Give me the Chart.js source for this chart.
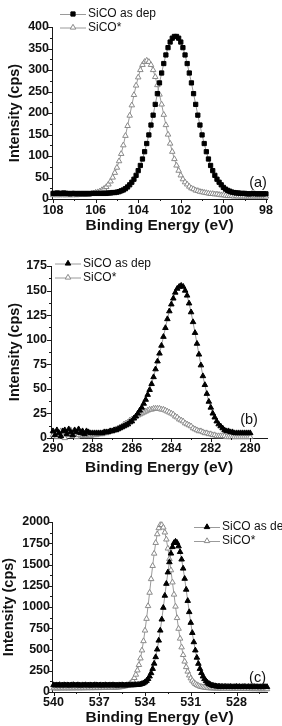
<!DOCTYPE html>
<html>
<head>
<meta charset="utf-8">
<script src="https://cdn.jsdelivr.net/npm/chart.js@4.4.1/dist/chart.umd.min.js"></script>
<style>
  html, body { margin: 0; padding: 0; background: #fff; }
  body { width: 282px; height: 726px; position: relative; overflow: hidden; }
  canvas { position: absolute; left: 0; }
</style>
</head>
<body>
<canvas id="panelA" width="282" height="236" style="top:0px"></canvas>
<canvas id="panelB" width="282" height="246" style="top:236px"></canvas>
<canvas id="panelC" width="282" height="244" style="top:482px"></canvas>
<script>
// ---- panel (a): Si 2p ----
const energyA = [
  108.0,107.9,107.8,107.7,107.6,107.5,107.4,107.3,107.2,107.1,
  107.0,106.9,106.8,106.7,106.6,106.5,106.4,106.3,106.2,106.1,
  106.0,105.9,105.8,105.7,105.6,105.5,105.4,105.3,105.2,105.1,
  105.0,104.9,104.8,104.7,104.6,104.5,104.4,104.3,104.2,104.1,
  104.0,103.9,103.8,103.7,103.6,103.5,103.4,103.3,103.2,103.1,
  103.0,102.9,102.8,102.7,102.6,102.5,102.4,102.3,102.2,102.1,
  102.0,101.9,101.8,101.7,101.6,101.5,101.4,101.3,101.2,101.1,
  101.0,100.9,100.8,100.7,100.6,100.5,100.4,100.3,100.2,100.1,
  100.0,99.9,99.8,99.7,99.6,99.5,99.4,99.3,99.2,99.1,
  99.0,98.9,98.8,98.7,98.6,98.5,98.4,98.3,98.2,98.1,
  98.0
];
const sicoDepA = [
  13,13,14,13,13,14,13,13,12,13,
  13,12,13,12,13,12,13,12,13,13,
  13,13,13,13,13,13,14,14,15,15,
  16,17,19,21,24,28,33,39,46,55,
  66,78,93,110,129,149,172,195,220,245,
  270,293,315,335,352,365,374,378,378,374,
  365,352,335,315,293,270,245,220,195,172,
  149,129,110,93,78,66,55,46,39,33,
  27,23,20,18,16,15,14,14,13,13,
  13,12,12,12,13,12,12,12,12,12,
  12
];
const sicoStarA = [
  9,10,9,9,10,9,9,10,9,9,
  10,9,10,10,10,10,11,11,12,13,
  15,16,18,21,24,28,34,41,50,61,
  73,88,105,125,147,170,194,218,242,264,
  283,300,312,319,322,319,312,300,284,265,
  243,220,196,172,150,129,110,93,78,66,
  55,46,39,34,29,25,23,20,19,17,
  16,15,14,13,12,12,11,11,10,9,
  9,8,7,7,7,6,7,6,6,6,
  6,6,6,6,6,6,6,6,6,6,
  6
];

// ---- panel (b): C 1s ----
const energyB = [
  290.0,289.9,289.8,289.7,289.6,289.5,289.4,289.3,289.2,289.1,
  289.0,288.9,288.8,288.7,288.6,288.5,288.4,288.3,288.2,288.1,
  288.0,287.9,287.8,287.7,287.6,287.5,287.4,287.3,287.2,287.1,
  287.0,286.9,286.8,286.7,286.6,286.5,286.4,286.3,286.2,286.1,
  286.0,285.9,285.8,285.7,285.6,285.5,285.4,285.3,285.2,285.1,
  285.0,284.9,284.8,284.7,284.6,284.5,284.4,284.3,284.2,284.1,
  284.0,283.9,283.8,283.7,283.6,283.5,283.4,283.3,283.2,283.1,
  283.0,282.9,282.8,282.7,282.6,282.5,282.4,282.3,282.2,282.1,
  282.0,281.9,281.8,281.7,281.6,281.5,281.4,281.3,281.2,281.1,
  281.0,280.9,280.8,280.7,280.6,280.5,280.4,280.3,280.2,280.1,
  280.0
];
const sicoDepB = [
  7,3,8,5,2,7,8,4,9,6,
  3,8,6,9,5,7,4,7,6,5,
  5,5,5,5,5,5,6,6,6,7,
  7,8,8,9,10,11,12,13,14,16,
  17,20,22,25,28,31,35,39,44,49,
  55,62,70,78,86,94,103,112,121,129,
  136,142,148,152,154,155,154,150,145,137,
  128,118,107,96,85,74,63,54,45,37,
  31,25,21,17,14,12,10,8,7,7,
  6,6,5,5,5,5,5,5,5,5,
  5
];
const sicoStarB = [
  3,6,1,4,7,2,0,5,3,8,
  2,4,1,3,5,2,3,2,3,2,
  3,3,3,4,4,4,5,5,6,7,
  7,8,9,10,11,12,14,15,16,18,
  19,20,22,23,24,25,26,27,28,29,
  29,30,30,30,30,29,29,28,27,26,
  25,24,22,21,19,18,17,15,14,13,
  12,10,9,8,7,7,6,5,5,4,
  4,3,3,2,2,2,2,2,1,1,
  1,1,1,1,1,1,1,1,1,1,
  1
];

// ---- panel (c): O 1s ----
const energyC = [
  540.0,539.9,539.8,539.7,539.6,539.5,539.4,539.3,539.2,539.1,
  539.0,538.9,538.8,538.7,538.6,538.5,538.4,538.3,538.2,538.1,
  538.0,537.9,537.8,537.7,537.6,537.5,537.4,537.3,537.2,537.1,
  537.0,536.9,536.8,536.7,536.6,536.5,536.4,536.3,536.2,536.1,
  536.0,535.9,535.8,535.7,535.6,535.5,535.4,535.3,535.2,535.1,
  535.0,534.9,534.8,534.7,534.6,534.5,534.4,534.3,534.2,534.1,
  534.0,533.9,533.8,533.7,533.6,533.5,533.4,533.3,533.2,533.1,
  533.0,532.9,532.8,532.7,532.6,532.5,532.4,532.3,532.2,532.1,
  532.0,531.9,531.8,531.7,531.6,531.5,531.4,531.3,531.2,531.1,
  531.0,530.9,530.8,530.7,530.6,530.5,530.4,530.3,530.2,530.1,
  530.0,529.9,529.8,529.7,529.6,529.5,529.4,529.3,529.2,529.1,
  529.0,528.9,528.8,528.7,528.6,528.5,528.4,528.3,528.2,528.1,
  528.0,527.9,527.8,527.7,527.6,527.5,527.4,527.3,527.2,527.1,
  527.0,526.9,526.8,526.7,526.6,526.5,526.4,526.3,526.2,526.1,
  526.0
];
const sicoDepC = [
  82,79,81,80,83,78,80,82,79,81,
  80,78,81,83,80,79,82,80,78,81,
  80,82,79,80,81,78,80,82,81,79,
  80,81,78,80,82,80,79,81,80,82,
  79,80,78,81,80,82,80,79,81,80,
  81,81,81,82,83,84,87,90,96,104,
  116,132,154,184,223,273,335,411,501,606,
  724,854,992,1134,1274,1408,1528,1630,1706,1754,
  1770,1756,1715,1648,1560,1453,1333,1205,1073,941,
  815,696,587,490,405,333,273,224,184,153,
  129,110,96,86,78,73,70,66,65,64,
  62,62,61,63,60,61,62,60,59,61,
  62,60,61,59,60,62,60,59,61,60,
  58,60,61,59,60,58,60,59,61,59,
  60
];
const sicoStarC = [
  44,45,43,44,45,44,46,44,45,45,
  44,46,45,45,46,45,47,45,46,46,
  46,47,46,47,47,46,48,47,47,48,
  47,48,48,49,49,50,50,51,51,52,
  53,53,54,56,58,60,65,69,75,84,
  96,113,135,166,205,255,319,396,490,599,
  724,862,1012,1169,1329,1484,1629,1755,1857,1928,
  1966,1966,1936,1878,1795,1689,1566,1433,1290,1147,
  1006,871,745,629,526,436,359,294,241,196,
  162,134,113,96,83,74,66,60,57,53,
  50,48,46,45,45,44,43,43,42,42,
  41,41,40,40,39,40,39,38,39,38,
  37,38,37,37,38,36,37,36,37,36,
  35,36,35,36,35,34,35,35,34,35,
  34
];

// tick values
const ticksAx = [108,106,104,102,100,98], minorAx = [107,105,103,101,99];
const ticksAy = [0,50,100,150,200,250,300,350,400], minorAy = [25,75,125,175,225,275,325,375];
const ticksBx = [290,288,286,284,282,280], minorBx = [289,287,285,283,281];
const ticksBy = [0,25,50,75,100,125,150,175], minorBy = [12.5,37.5,62.5,87.5,112.5,137.5,162.5];
const ticksCx = [540,537,534,531,528], minorCx = [538.5,535.5,532.5,529.5,526.5];
const ticksCy = [0,250,500,750,1000,1250,1500,1750,2000], minorCy = [125,375,625,875,1125,1375,1625,1875];

const seriesNames = ['SiCO as dep', 'SiCO*'];
const xTitle = 'Binding Energy (eV)';
const yTitle = 'Intensity (cps)';

Chart.defaults.font.family = '"Liberation Sans", Arial, sans-serif';
Chart.defaults.color = '#111';

const W = 282;
const INK = '#1a1a1a';
const LINE = '#9a9a9a';

// Origin-style outward ticks, legend and panel tag
const decor = {
  id: 'decor',
  afterDraw(chart, args, o) {
    const ctx = chart.ctx, area = chart.chartArea;
    const sx = chart.scales.x, sy = chart.scales.y;
    ctx.save();
    ctx.strokeStyle = INK;
    ctx.lineWidth = 1;
    ctx.beginPath();
    const xt = (vals, len) => vals.forEach(v => {
      const p = Math.round(sx.getPixelForValue(v)) + 0.5;
      ctx.moveTo(p, area.bottom); ctx.lineTo(p, area.bottom + len);
    });
    const yt = (vals, len) => vals.forEach(v => {
      const p = Math.round(sy.getPixelForValue(v)) + 0.5;
      ctx.moveTo(area.left, p); ctx.lineTo(area.left - len, p);
    });
    xt(o.xMajor, 4); xt(o.xMinor, 2); yt(o.yMajor, 4); yt(o.yMinor, 2);
    ctx.stroke();

    ctx.font = '12px "Liberation Sans", Arial, sans-serif';
    ctx.textBaseline = 'middle';
    chart.data.datasets.forEach((ds, i) => {
      const x0 = o.legendX, y = o.legendY[i];
      ctx.strokeStyle = ds.borderColor;
      ctx.lineWidth = 1;
      ctx.beginPath(); ctx.moveTo(x0, y + 0.5); ctx.lineTo(x0 + 26, y + 0.5); ctx.stroke();
      ctx.fillStyle = ds.pointBackgroundColor;
      ctx.strokeStyle = ds.pointBorderColor;
      Chart.helpers.drawPoint(ctx, {pointStyle: ds.pointStyle, radius: ds.pointRadius, borderWidth: 1, rotation: 0}, x0 + 13, y);
      ctx.fillStyle = '#111';
      ctx.textAlign = 'left';
      ctx.fillText(ds.label, x0 + 28, y);
    });

    ctx.font = '14.5px "Liberation Sans", Arial, sans-serif';
    ctx.textAlign = 'center';
    ctx.fillStyle = '#111';
    ctx.fillText(o.tag, o.tagX, o.tagY);
    ctx.restore();
  }
};

function makePanel(id, c) {
  const H = document.getElementById(id).height;
  const pts = arr => c.energy.map((e, i) => ({x: e, y: arr[i]}));
  return new Chart(document.getElementById(id), {
    type: 'line',
    data: {
      datasets: [
        {
          label: seriesNames[0], data: pts(c.dep),
          pointStyle: c.depStyle, pointRadius: c.depStyle === 'rect' ? 3 : 3.2,
          pointBackgroundColor: '#000', pointBorderColor: '#000', pointBorderWidth: 1,
          borderColor: LINE, borderWidth: 1, clip: false
        },
        {
          label: seriesNames[1], data: pts(c.star),
          pointStyle: 'triangle', pointRadius: 3.2,
          pointBackgroundColor: '#fff', pointBorderColor: '#8a8a8a', pointBorderWidth: 1,
          borderColor: LINE, borderWidth: 1, clip: false
        }
      ]
    },
    options: {
      responsive: false,
      animation: false,
      devicePixelRatio: 1,
      events: [],
      layout: {padding: {top: c.area.top, right: W - c.area.right, bottom: 0, left: 0}},
      plugins: {
        legend: {display: false},
        tooltip: {enabled: false},
        decor: {
          xMajor: c.xTicks, xMinor: c.xMinor, yMajor: c.yTicks, yMinor: c.yMinor,
          legendX: c.legendX, legendY: c.legendY,
          tag: c.tag, tagX: c.tagX, tagY: c.tagY
        }
      },
      scales: {
        x: {
          type: 'linear', reverse: true, min: c.xMin, max: c.xMax,
          grid: {display: false, drawTicks: false, tickLength: 0},
          border: {color: INK, width: 1},
          afterBuildTicks: s => { s.ticks = c.xTicks.map(v => ({value: v})); },
          afterFit: s => { s.height = H - c.area.bottom; },
          ticks: {padding: c.xTickPad, maxRotation: 0, autoSkip: false, color: '#111',
                  font: {size: 12.5, weight: 'bold'}, callback: v => String(v)},
          title: {display: true, text: xTitle, color: '#111',
                  font: {size: 15.5, weight: 'bold', lineHeight: 1},
                  padding: {top: 0, bottom: c.xTitlePad}}
        },
        y: {
          type: 'linear', min: c.yMin, max: c.yMax,
          grid: {display: false, drawTicks: false, tickLength: 0},
          border: {color: INK, width: 1},
          afterBuildTicks: s => { s.ticks = c.yTicks.map(v => ({value: v})); },
          afterFit: s => { s.width = c.area.left; },
          ticks: {padding: c.yTickPad, autoSkip: false, color: '#111',
                  font: {size: 12.5, weight: 'bold'}, callback: v => String(v)},
          title: {display: true, text: yTitle, color: '#111',
                  font: {size: 14.5, weight: 'bold', lineHeight: 1},
                  padding: {top: c.yTitlePad, bottom: 0}}
        }
      }
    },
    plugins: [decor]
  });
}

makePanel('panelA', {
  energy: energyA, dep: sicoDepA, star: sicoStarA, depStyle: 'rect',
  xMin: 97.95, xMax: 108.05, yMin: 0, yMax: 400,
  xTicks: ticksAx, xMinor: minorAx, yTicks: ticksAy, yMinor: minorAy,
  area: {top: 27, bottom: 199, left: 52, right: 267},
  xTickPad: 4, yTickPad: 3,
  xTitlePad: 3, yTitlePad: 7.75,
  legendX: 60, legendY: [14, 27.5],
  tag: '(a)', tagX: 258, tagY: 182.5
});

makePanel('panelB', {
  energy: energyB, dep: sicoDepB, star: sicoStarB, depStyle: 'triangle',
  xMin: 279.15, xMax: 290.1, yMin: 0, yMax: 175,
  xTicks: ticksBx, xMinor: minorBx, yTicks: ticksBy, yMinor: minorBy,
  area: {top: 30, bottom: 202, left: 51, right: 267},
  xTickPad: 3, yTickPad: 4,
  xTitlePad: 7, yTitlePad: 7.75,
  legendX: 55, legendY: [27.5, 41.5],
  tag: '(b)', tagX: 249, tagY: 184
});

makePanel('panelC', {
  energy: energyC, dep: sicoDepC, star: sicoStarC, depStyle: 'triangle',
  xMin: 526, xMax: 540.1, yMin: 0, yMax: 2000,
  xTicks: ticksCx, xMinor: minorCx, yTicks: ticksCy, yMinor: minorCy,
  area: {top: 40, bottom: 210, left: 52, right: 267},
  xTickPad: 3.5, yTickPad: 2,
  xTitlePad: 1, yTitlePad: 1.75,
  legendX: 194, legendY: [45, 59],
  tag: '(c)', tagX: 257.5, tagY: 195.5
});
</script>
</body>
</html>
